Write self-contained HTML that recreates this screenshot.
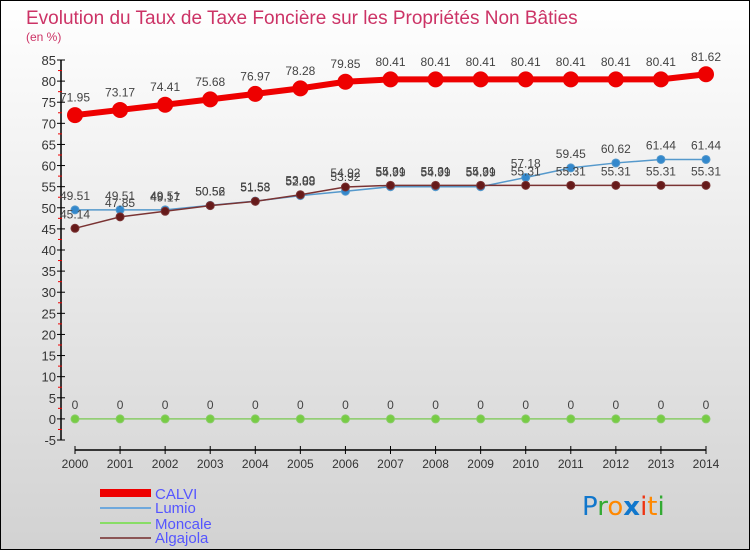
<!DOCTYPE html>
<html><head><meta charset="utf-8"><style>
html,body{margin:0;padding:0}
body{width:750px;height:550px;overflow:hidden;font-family:"Liberation Sans",sans-serif}
</style></head><body>
<svg id="chart" width="750" height="550" xmlns="http://www.w3.org/2000/svg" font-family="Liberation Sans, sans-serif">
<defs><linearGradient id="bg" x1="0" y1="0" x2="0" y2="1"><stop offset="0" stop-color="#ffffff"/><stop offset="1" stop-color="#d2d2d2"/></linearGradient></defs>
<rect x="0.5" y="0.5" width="749" height="549" fill="url(#bg)" stroke="#000"/>
<text x="26" y="24" font-size="19" fill="#cc3366">Evolution du Taux de Taxe Foncière sur les Propriétés Non Bâties</text>
<text x="26" y="41" font-size="12" fill="#cc3366">(en %)</text>
<g id="axes"></g>
<g id="series"></g>
<g>
<rect x="100" y="489" width="51" height="8" fill="#ee0000"/>
<text x="155" y="499" font-size="15" fill="#5555ff">CALVI</text>
<rect x="100" y="507" width="51" height="2" fill="#6fa8dc"/>
<text x="155" y="513" font-size="15" fill="#5555ff">Lumio</text>
<rect x="100" y="522" width="51" height="2" fill="#88dd66"/>
<text x="155" y="529" font-size="15" fill="#5555ff">Moncale</text>
<rect x="100" y="537" width="51" height="2" fill="#8b5555"/>
<text x="155" y="543" font-size="15" fill="#5555ff">Algajola</text>
</g>
<g font-size="26" font-family="DejaVu Sans, sans-serif">
<text x="582" y="515"><tspan fill="#1177cc">P</tspan><tspan fill="#33aa33">r</tspan><tspan fill="#ff8800">o</tspan><tspan fill="#1177cc" font-weight="bold">x</tspan><tspan fill="#ee3311">i</tspan><tspan fill="#ff8800">t</tspan><tspan fill="#33aa33">i</tspan></text>
</g>
</svg>
<script>
const years=[2000,2001,2002,2003,2004,2005,2006,2007,2008,2009,2010,2011,2012,2013,2014];
const calvi=[71.95,73.17,74.41,75.68,76.97,78.28,79.85,80.41,80.41,80.41,80.41,80.41,80.41,80.41,81.62];
const lumio=[49.51,49.51,49.51,50.56,51.58,52.88,53.92,54.99,54.99,54.99,57.18,59.45,60.62,61.44,61.44];
const moncale=[0,0,0,0,0,0,0,0,0,0,0,0,0,0,0];
const algajola=[45.14,47.85,49.17,50.52,51.53,53.09,54.92,55.31,55.31,55.31,55.31,55.31,55.31,55.31,55.31];
const yTicks=[-5,0,5,10,15,20,25,30,35,40,45,50,55,60,65,70,75,80,85];
const NS="http://www.w3.org/2000/svg";
const x0=75,x1=706,yTop=60,yBot=440,vMin=-5,vMax=85;
function xs(i){return x0+(x1-x0)*i/(years.length-1);}
function ys(v){return yBot-(v-vMin)*(yBot-yTop)/(vMax-vMin);}
function mk(tag,attrs,parent){const e=document.createElementNS(NS,tag);for(const k in attrs)e.setAttribute(k,attrs[k]);parent.appendChild(e);return e;}
const axes=document.getElementById('axes');
const ya=mk('line',{x1:61,y1:yTop,x2:61,y2:yBot,stroke:'#000','stroke-width':1.5},axes);


yTicks.forEach(t=>{
  const y=ys(t);
  mk('line',{x1:57,y1:y,x2:65,y2:y,stroke:'#000'},axes);
  if(t<vMax) mk('line',{x1:58,y1:ys(t+2.5),x2:62,y2:ys(t+2.5),stroke:'#ee0000'},axes);
  const tx=mk('text',{x:56,y:y+5,'font-size':13,'text-anchor':'end',fill:'#333'},axes);
  tx.textContent=t;
  
  
});
const xa=mk('line',{x1:x0,y1:450,x2:x1,y2:450,stroke:'#000','stroke-width':1.5},axes);


years.forEach((yr,i)=>{
  mk('line',{x1:xs(i),y1:446,x2:xs(i),y2:454,stroke:'#000'},axes);
  const tx=mk('text',{x:xs(i),y:468,'font-size':12,'text-anchor':'middle',fill:'#333'},axes);
  tx.textContent=yr;
  
  
});
const sg=document.getElementById('series');
function draw(name,vals,color,lw,r,dotFill){
  const g=mk('g',{},sg);
  
  
  mk('polyline',{points:vals.map((v,i)=>xs(i)+','+ys(v)).join(' '),fill:'none',stroke:color,'stroke-width':lw},g);
  vals.forEach((v,i)=>{
    const c=mk('circle',{cx:xs(i),cy:ys(v),r:r,fill:dotFill,stroke:color,'stroke-width':1},g);
    
    
    const t=mk('text',{x:xs(i),y:ys(v)-r-6,'font-size':12,'text-anchor':'middle',fill:'#444'},g);
    t.textContent=v;
    
    
  });
}
draw('moncale',moncale,'#88cc66',1.5,4,'#77cc44');
draw('lumio',lumio,'#5599cc',1.5,4,'#3388cc');
draw('algajola',algajola,'#7a3333',1.5,4,'#661a1a');
draw('calvi',calvi,'#ee0000',6,7.5,'#ee0000');
</script>
</body></html>
